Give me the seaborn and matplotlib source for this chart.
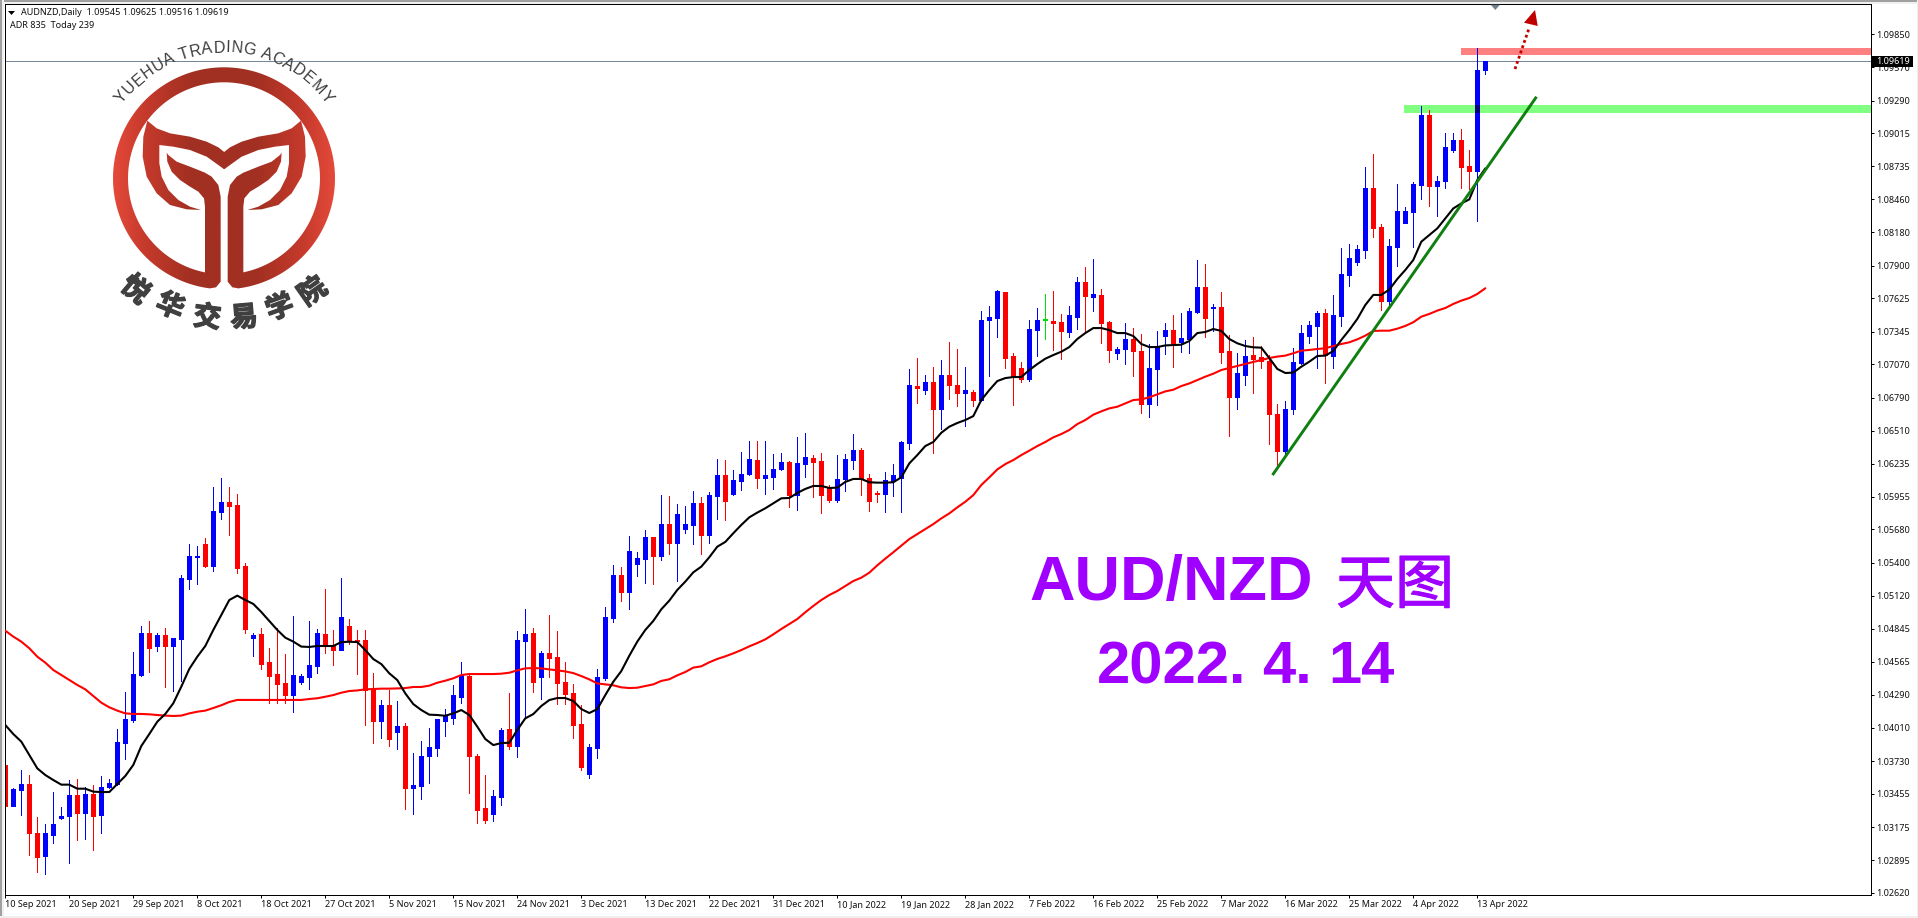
import numpy as np
import pandas as pd
import seaborn as sns
import matplotlib
matplotlib.use("Agg")
import matplotlib.pyplot as plt
import matplotlib.patheffects as pe
from matplotlib.colors import LinearSegmentedColormap
from matplotlib.patches import Polygon, Rectangle, PathPatch
from matplotlib.path import Path
from matplotlib.font_manager import FontProperties
from matplotlib.textpath import text_to_path

# ---------- data: prices in 1e-5 units ----------
high = [103815,103501,103655,103613,103260,103201,103470,103344,103571,103580,
103512,103529,103605,103580,104001,104312,104649,104868,104910,104809,
104851,104767,105297,105558,105541,105608,106038,106113,106038,105979,
105398,104809,104851,104682,104851,104632,104952,104464,104910,104842,
105179,104833,105271,104926,104833,104833,104471,104244,104328,104236,
104051,103798,103899,104008,104084,104168,104370,104564,104455,103790,
103613,103486,104008,104303,104825,105010,104850,104657,104960,104825,
104564,104379,104202,103874,104505,105027,105381,105364,105625,105490,
105676,105617,105970,105962,105895,105878,106004,105953,105996,106273,
106265,106181,106332,106425,106425,106425,106315,106324,106256,106459,
106492,106307,106324,106054,106307,106315,106484,106366,106147,106004,
106164,106231,106425,107030,107123,106980,107047,107106,107257,107198,
107047,106853,107518,107560,107695,107678,107165,107089,107443,107544,
107661,107687,107493,107560,107805,107889,107956,107704,107434,107215,
107417,107375,107325,107241,107350,107417,107485,107501,107544,107948,
107914,107577,107679,107317,107165,107275,107300,107224,107149,106736,
106761,107207,107401,107435,107519,107536,107654,108049,108083,108074,
108730,108840,108250,108124,108587,108393,108604,109244,109210,108654,
109016,109016,109050,108873,109732,109625]
body_top = [103698,103495,103538,103538,103125,103125,103201,103268,103445,103445,
103453,103453,103512,103546,103891,104085,104464,104809,104809,104792,
104792,104767,105272,105457,105457,105558,105836,105911,105911,105886,
105373,104792,104800,104565,104464,104388,104455,104447,104539,104809,
104800,104699,104943,104867,104749,104749,104345,104202,104202,104025,
104025,103529,103773,103848,104084,104109,104286,104455,104446,103773,
103335,103436,103992,104000,104749,104800,104808,104640,104640,104606,
104396,104303,104042,103848,104438,104943,105296,105296,105499,105440,
105617,105617,105726,105726,105810,105726,105903,105903,105970,106139,
106139,106097,106147,106273,106265,106139,106189,106248,106248,106240,
106290,106282,106256,106029,106105,106273,106349,106349,106113,105987,
106097,106139,106416,106895,106887,106921,106921,106980,106980,106895,
106853,106836,107443,107468,107687,107678,107140,107038,107367,107443,
107451,107434,107426,107485,107762,107762,107661,107653,107426,107198,
107283,107283,107182,107038,107215,107358,107358,107291,107518,107720,
107720,107552,107553,107182,106997,107140,107149,107132,107098,106652,
106694,107090,107334,107401,107502,107502,107485,107830,107965,108040,
108553,108553,108225,108065,108360,108360,108587,109168,109168,108612,
108899,108957,108957,108739,109547,109619]
body_bot = [103355,103355,103487,103128,102926,102934,103108,103251,103268,103293,
103293,103268,103277,103510,103538,103883,104076,104455,104682,104699,
104699,104699,104758,105263,105448,105373,105373,105827,105878,105356,
104842,104767,104548,104447,104379,104287,104287,104396,104438,104531,
104707,104665,104665,104749,104741,104328,104067,104067,103916,103975,
103503,103503,103520,103773,103840,104067,104093,104269,103773,103318,
103234,103284,103428,103857,103857,104741,104396,104438,104598,104387,
104295,104034,103680,103621,103840,104429,104934,105153,105154,105389,
105432,105457,105457,105566,105566,105684,105718,105634,105634,105962,
105920,105979,106088,106147,106113,106113,106122,106189,105970,105970,
106231,106248,105970,105928,105928,106105,106265,106105,105920,105979,
105979,106088,106113,106407,106870,106853,106693,106693,106895,106828,
106828,106769,106769,107443,107459,107123,106971,106946,106946,107358,
107443,107417,107350,107342,107468,107645,107636,107417,107190,107165,
107198,107182,106735,106735,107030,107308,107249,107257,107283,107510,
107459,107544,107174,106795,106795,106980,107115,107098,106652,106340,
106340,106694,107081,107309,107393,107149,107140,107477,107822,107930,
108031,108217,107603,107603,108057,108259,108351,108579,108570,108570,
108612,108873,108730,108696,108696,109545]
low = [103285,103355,103277,102940,102797,102780,103041,103246,102873,103066,
103075,102982,103125,103501,103529,103748,104059,104447,104480,104657,
104354,104320,104405,105179,105221,105364,105331,105768,105634,105314,
104809,104615,104506,104219,104219,104219,104144,104379,104337,104472,
104640,104539,104665,104716,104463,104034,103882,103924,103857,103832,
103327,103284,103411,103545,103773,103941,104042,104219,103461,103209,
103209,103226,103360,103832,103764,104104,104311,104253,104438,104210,
104210,103924,103655,103588,103756,104412,104901,105077,105011,105288,
105230,105221,105423,105474,105246,105650,105558,105474,105566,105768,
105760,105970,106012,106139,106029,105979,106021,106181,105869,105844,
106122,105953,105819,105911,105911,106004,106189,105970,105836,105911,
105827,105962,105827,106357,106744,106820,106323,106525,106778,106719,
106550,106719,106761,106971,107299,107038,106727,106921,106929,107140,
107283,107190,107114,107299,107367,107333,107518,107249,107089,107114,
107072,106971,106660,106626,106727,107156,107047,107173,107165,107501,
107299,107350,107081,106467,106694,106896,106829,107039,106399,106209,
106298,106652,107073,107250,107039,106913,107039,107393,107729,107905,
107964,108141,107527,107561,107897,108259,108057,108461,108402,108318,
108553,108856,108553,108545,108276,109516]
direction = ("rbbrrbbbbr" "brbbbbbbrb" "rbbbbrbbrr" "rbrrrrbbbb" "rrbrrrrbrb"
             "rbbbbbbbrr" "rbbrbbrbrr" "rrrbbbbrbb" "brbrbbbrbb" "rbbbrbbbrb"
             "brrrbbbrrr" "bbbbrbrbrr" "brbbbrrrbb" "grrbbrbrrb" "brrbbbrbbb"
             "rbrrbbrrrr" "bbbbbrbbbb" "brrbbbbbrb" "bbrrbb")
ma_fast = [104034,103958,103894,103782,103669,103613,103571,103532,103532,103498,
103498,103473,103470,103470,103538,103605,103698,103857,103958,104062,
104127,104217,104357,104506,104609,104699,104834,104960,105086,105123,
105086,105053,104985,104910,104834,104769,104736,104694,104691,104699,
104699,104699,104732,104735,104732,104665,104589,104547,104469,104412,
104300,104210,104160,104121,104118,104112,104132,104160,104118,104020,
103916,103865,103882,103885,103992,104090,104126,104194,104244,104261,
104261,104236,104168,104135,104168,104286,104398,104488,104617,104736,
104834,104910,105008,105081,105171,105241,105319,105367,105446,105535,
105575,105648,105718,105782,105822,105858,105900,105942,105945,105987,
106021,106046,106046,106029,106032,106080,106105,106105,106077,106074,
106074,106077,106119,106236,106306,106382,106416,106494,106545,106576,
106601,106634,106769,106853,106929,106954,106963,106963,107022,107072,
107117,107148,107176,107215,107283,107333,107375,107375,107358,107333,
107333,107308,107241,107215,107215,107229,107232,107235,107266,107333,
107342,107367,107351,107283,107247,107224,107213,107210,107123,107031,
106997,107000,107050,107092,107140,107143,107182,107275,107359,107452,
107569,107654,107654,107699,107788,107864,107948,108102,108158,108214,
108298,108382,108424,108458,108621,108719]
ma_slow = [104828,104778,104736,104680,104609,104559,104497,104455,104413,104371,
104334,104278,104222,104183,104155,104132,104127,104127,104124,104118,
104113,104110,104113,104132,104146,104155,104177,104200,104228,104245,
104245,104245,104245,104245,104245,104245,104245,104245,104253,104259,
104272,104286,104306,104320,104325,104334,104337,104340,104340,104342,
104345,104354,104354,104365,104390,104407,104427,104455,104463,104463,
104463,104463,104466,104474,104494,104511,104513,104511,104502,104494,
104485,104471,104446,104418,104384,104376,104368,104351,104345,104348,
104362,104376,104405,104419,104452,104480,104517,104528,104562,104590,
104612,104637,104665,104696,104724,104755,104797,104842,104884,104926,
104983,105036,105086,105128,105162,105204,105246,105274,105316,105378,
105434,105488,105544,105599,105641,105683,105725,105773,105815,105866,
105913,105969,106054,106118,106185,106230,106264,106306,106343,106382,
106416,106455,106483,106517,106567,106601,106646,106674,106699,106713,
106741,106769,106775,106792,106817,106842,106856,106887,106909,106937,
106966,106991,107022,107039,107056,107073,107090,107106,107123,107135,
107143,107163,107185,107191,107199,107205,107224,107241,107255,107280,
107311,107351,107353,107353,107370,107393,107424,107471,107494,107522,
107544,107578,107606,107628,107662,107710]

date_labels = ["10 Sep 2021","20 Sep 2021","29 Sep 2021","8 Oct 2021","18 Oct 2021","27 Oct 2021",
"5 Nov 2021","15 Nov 2021","24 Nov 2021","3 Dec 2021","13 Dec 2021","22 Dec 2021","31 Dec 2021",
"10 Jan 2022","19 Jan 2022","28 Jan 2022","7 Feb 2022","16 Feb 2022","25 Feb 2022","7 Mar 2022",
"16 Mar 2022","25 Mar 2022","4 Apr 2022","13 Apr 2022"]
price_ticks = ["1.09850","1.09570","1.09290","1.09015","1.08735","1.08460","1.08180","1.07900",
"1.07625","1.07345","1.07070","1.06790","1.06510","1.06235","1.05955","1.05680","1.05400","1.05120",
"1.04845","1.04565","1.04290","1.04010","1.03730","1.03455","1.03175","1.02895","1.02620"]
last_price = 1.09619
resistance = [1.09732, 1.09674]
support = [1.09253, 1.09186]
trend_x = [158.4, 191.4]
trend_y = [1.06138, 1.09322]

# ---------- frame ----------
sns.set_theme(style="white")
FONT = "Noto Sans"
plt.rcParams["font.family"] = [FONT, "DejaVu Sans"]
W, H = 1918, 918
fig = plt.figure(figsize=(W / 100, H / 100), dpi=100, facecolor="white")
L, R, T, B = 4.7, 1870.7, 4.3, 895.0
ax = fig.add_axes([L / W, 1 - B / H, (R - L) / W, (B - T) / H])
PX = 0.72
ax.set_xlim((L - 5.3) / 8, (R - 5.3) / 8)
ax.set_ylim(1.0262 - (B - 893) * 8.417e-5, 1.0262 + (893 - T) * 8.417e-5)
for s in ax.spines.values():
    s.set_color("black"); s.set_linewidth(PX)

df = pd.DataFrame({"i": np.arange(len(high)), "high": np.array(high) / 1e5, "low": np.array(low) / 1e5,
                   "top": np.array(body_top) / 1e5, "bot": np.array(body_bot) / 1e5,
                   "dir": list(direction), "fast": np.array(ma_fast) / 1e5, "slow": np.array(ma_slow) / 1e5})
cmap = {"b": "#0000FF", "r": "#FF0000", "g": "#00E000"}
colors = df["dir"].map(cmap)

# bands beneath the candles
ax.axhspan(resistance[1], resistance[0], xmin=(1461 - L) / (R - L), xmax=1, color="#FF8080", lw=0, zorder=1)
ax.axhspan(support[1], support[0], xmin=(1404 - L) / (R - L), xmax=1.0005, color="#80FF80", lw=0, zorder=1, clip_on=False)
ax.axhline(last_price, color="#778899", lw=PX, zorder=1.5)

# candles
ax.vlines(df["i"], df["low"], df["high"], colors=colors, lw=PX, zorder=2, antialiased=False)
ax.bar(df["i"], df["top"] - df["bot"], bottom=df["bot"], width=4 / 8, color=colors, edgecolor=colors,
       lw=PX, zorder=2.1, antialiased=False)
i_over = 184
ax.bar([i_over], [support[0] - support[1]], bottom=[support[1]], width=5 / 8, color="#000080", lw=0, zorder=2.2,
       antialiased=False)

# moving averages
sns.lineplot(data=df, x="i", y="slow", color="#FF0000", lw=1.5, ax=ax, estimator=None, errorbar=None, zorder=3)
sns.lineplot(data=df, x="i", y="fast", color="black", lw=1.5, ax=ax, estimator=None, errorbar=None, zorder=3.1)
ax.plot(trend_x, trend_y, color="#0F7F0F", lw=2.1, zorder=4, solid_capstyle="butt")

ax.yaxis.tick_right()
ax.set_xticks(np.arange(0, 8 * len(date_labels), 8))
ax.set_xticklabels(date_labels, ha="left", fontsize=6.5, color="#101010", family=FONT)
ax.set_yticks([float(t) for t in price_ticks])
ax.set_yticklabels(price_ticks, fontsize=6.5, color="#101010", family=FONT)
ax.tick_params(axis="both", length=2.2, width=PX, color="black", pad=1.5, bottom=True, right=True, left=False)
ax.set_xlabel(""); ax.set_ylabel("")

# ---------- overlay in figure pixels ----------
ov = fig.add_axes([0, 0, 1, 1], facecolor="none", zorder=10)
ov.axis("off")
ov.set_xlim(0, W); ov.set_ylim(H, 0)

for (x, y, w, h, c) in [(0, 0, W, 2, "#A0A0A0"), (0, 2, W, 1.5, "#F0F0F0"), (0, 0, 1.5, H, "#A0A0A0"),
                        (1.5, 0, 2, H, "#F0F0F0"), (0, 916, W, 2, "#EFEFEF"), (W - 1.5, 0, 1.5, H, "#EFEFEF")]:
    ov.add_patch(Rectangle((x, y), w, h, fc=c, ec="none"))

# header
ov.add_patch(Polygon([(8, 11), (15, 11), (11.5, 15)], fc="black", ec="none"))
ov.text(21, 12.7, "AUDNZD,Daily  1.09545 1.09625 1.09516 1.09619", fontsize=6.5, va="center", color="#101010")
ov.text(10, 25.7, "ADR 835  Today 239", fontsize=6.5, va="center", color="#101010")

# price tag and small marker
ov.add_patch(Rectangle((1872, 56), 41, 10.7, fc="black", ec="none"))
ov.text(1876, 61.2, "1.09619", color="white", fontsize=6.5, va="center")
ov.add_patch(Polygon([(1490.7, 4.7), (1500, 4.7), (1495.3, 10)], fc="#708090", ec="none"))

# dotted arrow
ov.plot([1515, 1529.5], [69, 27], color="#C00000", lw=2.0, ls=(0, (1, 1)), dash_capstyle="butt")
ov.add_patch(Polygon([(1524, 22.7), (1537.7, 26), (1535, 10)], fc="#C00000", ec="none"))

# big labels
PURPLE = "#A000FF"
BOLD = dict(family="Liberation Sans", weight="bold", color=PURPLE, va="baseline")
ov.text(1029, 600, "AUD/NZD", fontsize=45.4, **BOLD)
ov.text(1336, 603, "天图", fontsize=42.5, color=PURPLE, va="baseline", family=["Noto Sans CJK SC", "DejaVu Sans"],
        path_effects=[pe.withStroke(linewidth=0.8, foreground=PURPLE)])
ov.text(1097, 683, "2022.", fontsize=43, **BOLD)
ov.text(1262, 683, "4.", fontsize=43, **BOLD)
ov.text(1328, 683, "14", fontsize=43, **BOLD)

# ---------- logo ----------
def z(pts):
    return [(90 + a / 3, 30 + b / 3) for a, b in pts]
def mir(pts):
    return [(805 - a, b) for a, b in pts]

cx, cy = 224.0, 178.3
grad = np.linspace(0, 1, 256).reshape(1, -1)
lcm = LinearSegmentedColormap.from_list("logo", [(0, "#E54A3A"), (0.14, "#C63A2C"), (0.35, "#A23022"),
                                                 (0.65, "#A23022"), (0.86, "#C63A2C"), (1, "#E54A3A")])
def outer_inner():
    t1 = np.radians(np.linspace(-7.2, -352.8, 180))
    t2 = np.radians(np.linspace(-348.5, -11.5, 180))
    out = np.c_[cx + 111 * np.sin(t1), cy + 111 * np.cos(t1)]
    inn = np.c_[cx + 96 * np.sin(t2), cy + 96 * np.cos(t2)]
    return np.vstack([out, inn])

top = [(172, 272), (200, 295), (240, 310), (300, 320), (350, 335), (385, 352), (402.5, 366)]
lower = [(402.5, 418), (385, 405), (350, 380), (300, 360), (250, 350), (208, 345), (208, 400), (215, 440),
         (235, 480), (265, 510), (300, 530), (333, 540), (290, 538), (240, 525), (200, 490), (170, 440),
         (158, 380), (160, 320), (172, 272)]
crown = top + mir(top[::-1])[1:] + mir(lower[::-1])[1:] + lower[1:]
stem = [(392, 500), (385, 465), (365, 440), (345, 428), (300, 410), (260, 395), (235, 375), (230, 368),
        (232, 395), (245, 425), (270, 450), (300, 470), (325, 485), (342, 505), (345, 530), (345, 760),
        (360, 775), (378, 772), (392, 755)]
shapes = [outer_inner(), np.array(z(crown)), np.array(z(stem)), np.array(z(mir(stem)))]
for poly in shapes:
    im = ov.imshow(grad, extent=[113, 335, 292, 67], aspect="auto", cmap=lcm, zorder=5, interpolation="bilinear")
    pp = PathPatch(Path(np.vstack([poly, poly[0]]), closed=True), transform=ov.transData, fc="none", ec="none")
    ov.add_patch(pp)
    im.set_clip_path(pp)
ov.set_xlim(0, W); ov.set_ylim(H, 0)

# arc lettering
arc_text = "YUEHUA TRADING ACADEMY"
fp = FontProperties(family="Liberation Sans", size=11.6)
adv = np.array([text_to_path.get_text_width_height_descent(c, fp, False)[0] for c in arc_text])
edges = np.r_[0, np.cumsum(adv)]
mid = (edges[:-1] + edges[1:]) / 2 / edges[-1]
angles = -54 + 108 * mid
for c, a in zip(arc_text, angles):
    r = np.radians(a)
    ov.text(cx + 126 * np.sin(r), cy - 126 * np.cos(r), c, rotation=-a, rotation_mode="anchor", ha="center",
            va="baseline", fontproperties=fp, color="#3C3C3C", zorder=6)

cn_chars = list("悦华交易学院")
cn_x = [135, 170, 207, 244, 280, 313]
cn_y = [290, 306.7, 318, 318, 308, 292]
cn_rot = [-40, -22, -7, 5, 20, 35]
for c, x, y, rot in zip(cn_chars, cn_x, cn_y, cn_rot):
    ov.text(x, y, c, rotation=rot, rotation_mode="anchor", ha="center", va="center", fontsize=20,
            weight="bold", color="#404040", family=["Noto Sans CJK SC", "DejaVu Sans"], zorder=6,
            path_effects=[pe.withStroke(linewidth=1.0, foreground="#404040")])

fig.savefig("out.png", dpi=100)
